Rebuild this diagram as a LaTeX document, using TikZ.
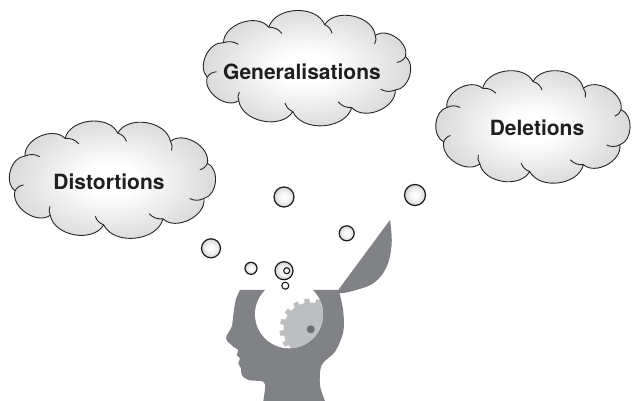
\documentclass[tikz,border=0pt]{standalone}
\usepackage{fontspec}
\newfontfamily\labelfont{TeX Gyre Heros}
\usetikzlibrary{shadings}
\usepackage{xcolor}

% soft grey fills for the clouds and the thought bubbles
\pgfdeclareradialshading{cloudgray}{\pgfpoint{0bp}{0bp}}{color(0bp)=(white); color(6bp)=(white); color(50bp)=(black!36); color(72bp)=(black!38)}
\pgfdeclareradialshading{bubblegray}{\pgfpoint{0bp}{0bp}}{color(0bp)=(white); color(12bp)=(white!96!black); color(50bp)=(black!42); color(72bp)=(black!42)}
\definecolor{headgray}{HTML}{808285}
\definecolor{geargray}{HTML}{BCBEC0}
\definecolor{dotgray}{HTML}{6D6E71}

\begin{document}
\begin{tikzpicture}[x=1pt,y=1pt]
					\tikzstyle{cloudbody} = [shading=cloudgray, draw=black!85, line width=0.9pt, line join=round]
					\tikzstyle{cusp} = [draw=black!85, line width=0.9pt]
					\tikzstyle{cloudtext} = [font=\labelfont\bfseries\fontsize{21}{25}\selectfont, text=black!88]
					\tikzstyle{bubble} = [circle, shading=bubblegray, draw=black!90, line width=1.2pt, inner sep=0pt]
					\tikzstyle{ring} = [circle, fill=white, draw=black!90, line width=1.1pt, inner sep=0pt]
					\useasboundingbox (0,0) rectangle (637,401);

					% clouds
					\begin{scope}[shift={(112.5,222)}]
					\path[cloudbody] (20:101 and 46) \foreach \t in {55,87,118,150,195,232,265,300,335,380} {to[bend right=70] (\t:101 and 46)} -- cycle;
					\foreach \t in {55,87,118,150,195,232,265,300,335,20} \draw[cusp] (\t:101 and 46) to[bend left=25] (\t-6:90 and 38);
					\end{scope}
					\begin{scope}[shift={(307,333)}]
					\path[cloudbody] (15:102 and 44) \foreach \t in {48,80,112,145,192,228,262,296,330,375} {to[bend right=70] (\t:102 and 44)} -- cycle;
					\foreach \t in {48,80,112,145,192,228,262,296,330,15} \draw[cusp] (\t:102 and 44) to[bend left=25] (\t-6:91 and 36);
					\end{scope}
					\begin{scope}[shift={(533,274.5)}]
					\path[cloudbody] (22:95 and 45) \foreach \t in {58,90,122,155,200,236,268,302,336,382} {to[bend right=70] (\t:95 and 45)} -- cycle;
					\foreach \t in {58,90,122,155,200,236,268,302,336,22} \draw[cusp] (\t:95 and 45) to[bend left=25] (\t-6:85 and 37);
					\end{scope}
					\node[cloudtext] (dist) at (109,219.5) {Distortions};
					\node[cloudtext] (gen) at (302,329.5) {Generalisations};
					\node[cloudtext] (del) at (537,273) {Deletions};

					% open lid of the head
					\fill[headgray] (336,108) -- (390,181) -- plot[smooth, tension=0.6] coordinates {(390,181) (391.7,157.7) (386.7,134.3) (373.3,117.7) (350,109.3) (336.7,107.7)} -- cycle;
					% head seen from the side
					\fill[headgray] (338.3,111) -- (240,111) -- plot[smooth, tension=0.55] coordinates {(240,111) (235.7,101) (233.3,86) (231.7,74.3) (226,62.7) (233.3,54.3) (238.3,51) (236.7,46) (240,42.7) (238.3,37.7) (241,32.7) (241.7,26) (248.3,21) (263.3,19.3) (265,12.7) (263.3,0)} -- (325,0) -- plot[smooth, tension=0.55] coordinates {(325,0) (320,16) (321.7,36) (335,49.3) (343.3,69.3) (343.3,89.3) (340,106) (338.3,111)} -- cycle;
					\fill[white] (289,86.7) circle (34);
					% gear inside the head
					\begin{scope}
					\clip (289,86.7) circle (34);
					\begin{scope}[shift={(310.5,71.5)}]
					\fill[geargray] (1:27) \foreach \g in {0,22.5,...,337.5} { -- (\g+1:27) -- (\g+2.5:31) -- (\g+11.5:31) -- (\g+13:27) } -- cycle;
					\end{scope}
					\end{scope}
					\fill[dotgray] (310.7,71.7) circle (4);

					% thought bubbles
					\node[bubble, minimum size=20pt] (b1) at (284,204) {};
					\node[bubble, minimum size=21pt] (b2) at (415,206) {};
					\node[bubble, minimum size=15pt] (b3) at (346.7,167.7) {};
					\node[bubble, minimum size=19pt] (b4) at (211,152.7) {};
					\node[bubble, minimum size=12pt] (b5) at (251,132.7) {};
					\node[bubble, minimum size=18pt] (b6) at (284,130.3) {};
					\node[ring, minimum size=6pt] (b6in) at (286.7,130.3) {};
					\node[ring, minimum size=7pt] (b7) at (285.3,115.3) {};
					\end{tikzpicture}
\end{document}
